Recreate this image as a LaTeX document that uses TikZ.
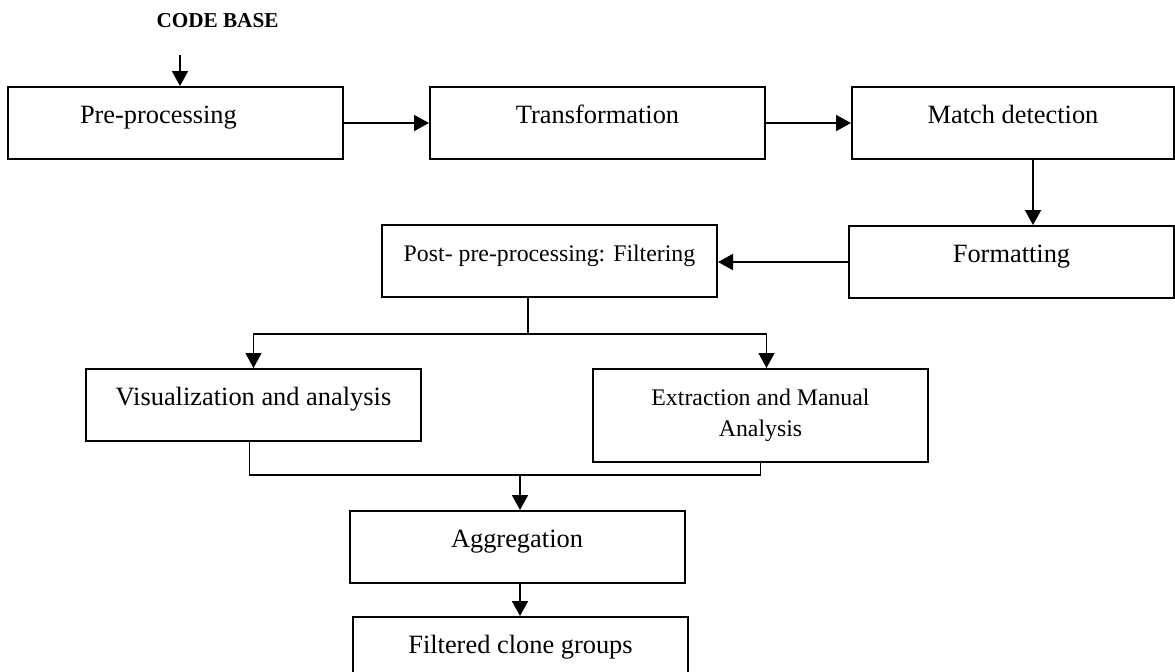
\documentclass[tikz,border=0pt]{standalone}
\usepackage{fontspec}
\setmainfont{Liberation Serif}
\usetikzlibrary{arrows.meta}
\begin{document}
\begin{tikzpicture}[x=0.5pt,y=-0.5pt,
    box/.style={draw,line width=1pt,minimum width=167.5pt,minimum height=36pt,inner sep=0pt,
      text height=6pt,text depth=6pt,font=\fontsize{13.2}{15}\selectfont},
    small/.style={font=\fontsize{11.9}{15.5}\selectfont},
    arr/.style={line width=1pt,-{Triangle[length=7.5pt,width=8pt]}},
    thin/.style={line width=0.6pt}]
    \useasboundingbox (0,0) rectangle (1175,671);
    \node[font=\bfseries\fontsize{10.6}{12}\selectfont] (codebase) at (217.5,20.5) {CODE BASE};
    \coordinate (cbarrow) at (180,55);
    % first row
    \node[box,text width=95.5pt,align=left] (pre) at (175.5,123) {Pre-processing};
    \node[box] (trans) at (597.5,123) {Transformation};
    \node[box,minimum width=161pt] (match) at (1013,123) {Match detection};
    % second row
    \node[box,minimum width=162.5pt] (fmt) at (1011.5,262) {Formatting};
    \node[box,small] (post) at (549.5,261) {Post- pre-processing: Filtering};
    % branches
    \node[box] (vis) at (253.5,405) {Visualization and analysis};
    \node[box,small,text height=,text depth=,align=center,minimum height=46.5pt] (ext) at (760.5,415.5) {Extraction and Manual\\Analysis};
    \node[box] (agg) at (517,547) {Aggregation};
    \node[box] (filt) at (520.5,653) {Filtered clone groups};
    \coordinate (split) at (528,334);
    \coordinate (join) at (520,475);

    \draw[arr] (cbarrow) -- (cbarrow |- pre.north);
    \draw[arr] (pre) -- (trans);
    \draw[arr] (trans) -- (match);
    \draw[arr] ([xshift=10pt]match.south) -- ([xshift=10pt]match.south |- fmt.north);
    \draw[arr] (fmt.west) -- (fmt.west -| post.east);
    \draw[thin] (split |- post.south) -- (split);
    \draw[arr,line width=0.6pt] (split) -| (vis.north);
    \draw[arr,line width=0.6pt] (split) -| ([xshift=3pt]ext.north);
    \draw[thin] ([xshift=-2pt]vis.south) |- (join) -| (ext.south);
    \draw[arr] (join) -- (join |- agg.north);
    \draw[arr] (join |- agg.south) -- (join |- filt.north);
\end{tikzpicture}
\end{document}
